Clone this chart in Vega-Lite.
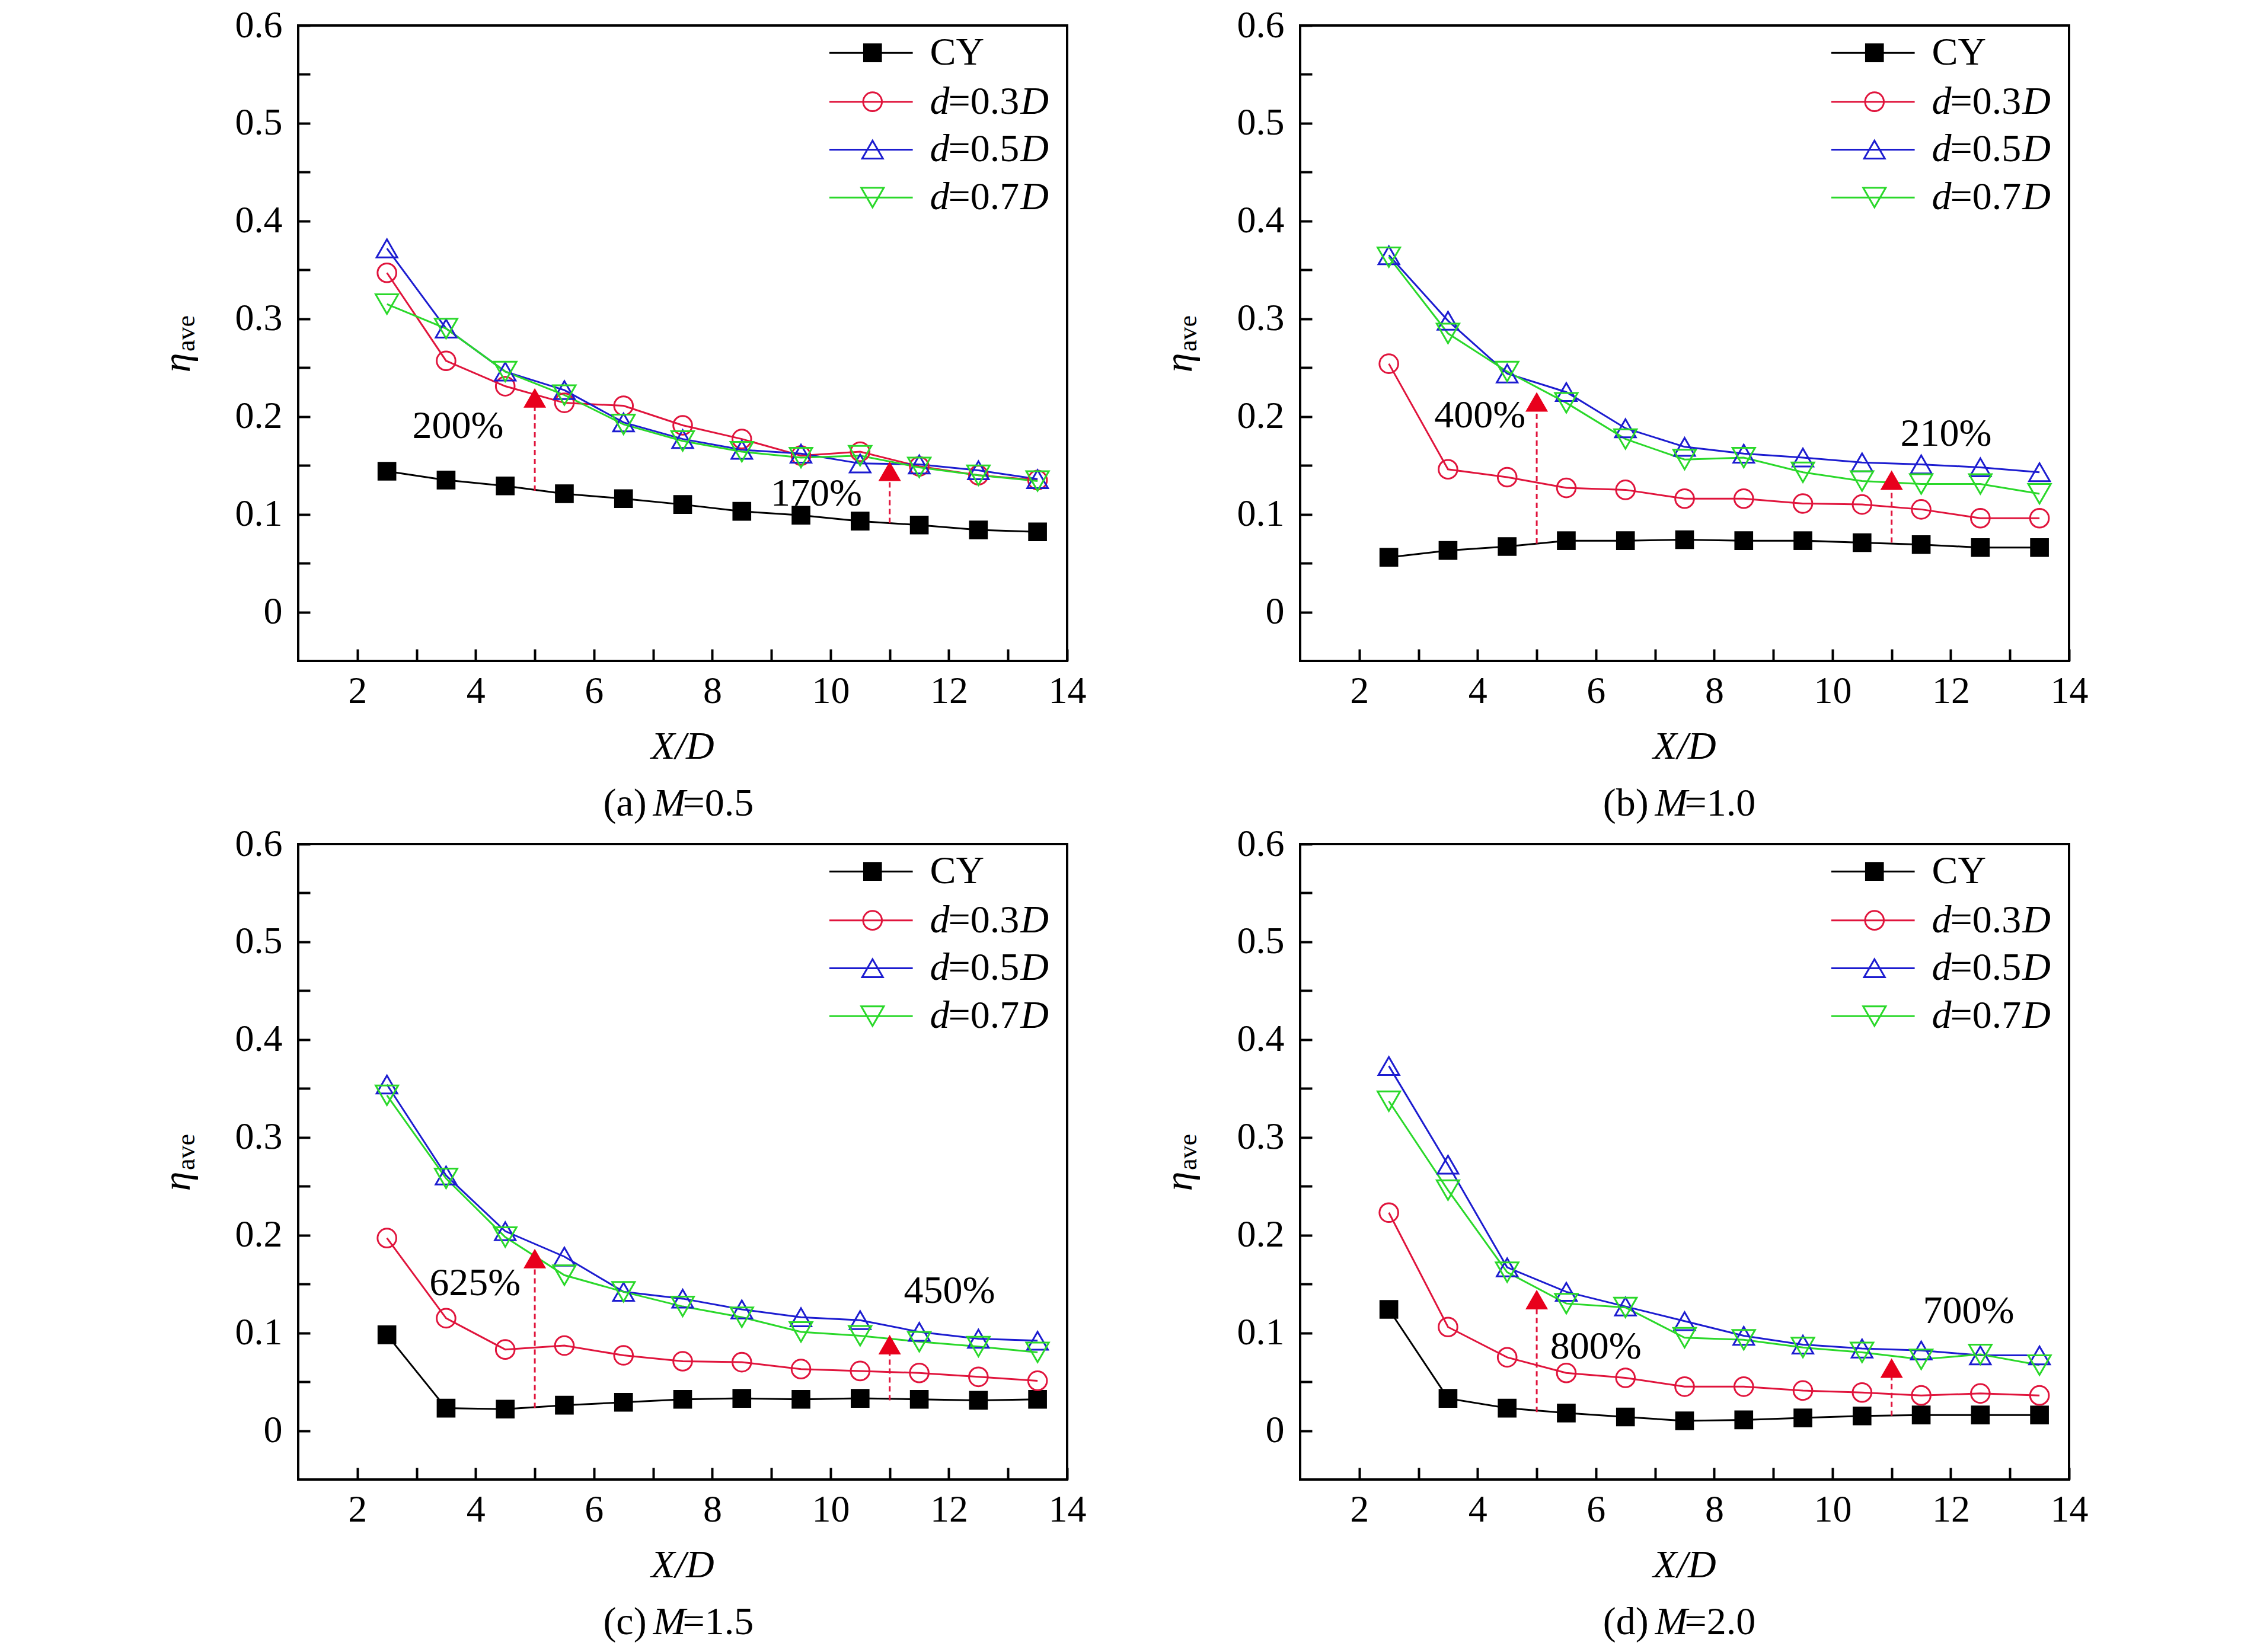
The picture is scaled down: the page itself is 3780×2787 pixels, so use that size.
{
  "$schema": "https://vega.github.io/schema/vega-lite/v6.json",
  "background": "white",
  "padding": {"left": 265, "top": 9, "right": 292, "bottom": 19},
  "data": {
    "values": [
      {"kind": "s", "panel": "a", "x": 2.5, "CY": 0.144, "d3": 0.347, "d5": 0.372, "d7": 0.315},
      {"kind": "s", "panel": "a", "x": 3.5, "CY": 0.135, "d3": 0.257, "d5": 0.290, "d7": 0.290},
      {"kind": "s", "panel": "a", "x": 4.5, "CY": 0.129, "d3": 0.231, "d5": 0.246, "d7": 0.246},
      {"kind": "s", "panel": "a", "x": 5.5, "CY": 0.121, "d3": 0.214, "d5": 0.227, "d7": 0.222},
      {"kind": "s", "panel": "a", "x": 6.5, "CY": 0.116, "d3": 0.211, "d5": 0.194, "d7": 0.192},
      {"kind": "s", "panel": "a", "x": 7.5, "CY": 0.110, "d3": 0.191, "d5": 0.177, "d7": 0.175},
      {"kind": "s", "panel": "a", "x": 8.5, "CY": 0.103, "d3": 0.177, "d5": 0.166, "d7": 0.164},
      {"kind": "s", "panel": "a", "x": 9.5, "CY": 0.099, "d3": 0.160, "d5": 0.162, "d7": 0.158},
      {"kind": "s", "panel": "a", "x": 10.5, "CY": 0.093, "d3": 0.164, "d5": 0.152, "d7": 0.160},
      {"kind": "s", "panel": "a", "x": 11.5, "CY": 0.089, "d3": 0.149, "d5": 0.151, "d7": 0.148},
      {"kind": "s", "panel": "a", "x": 12.5, "CY": 0.084, "d3": 0.140, "d5": 0.145, "d7": 0.140},
      {"kind": "s", "panel": "a", "x": 13.5, "CY": 0.082, "d3": 0.135, "d5": 0.136, "d7": 0.134},
      {"kind": "s", "panel": "b", "x": 2.5, "CY": 0.056, "d3": 0.254, "d5": 0.365, "d7": 0.363},
      {"kind": "s", "panel": "b", "x": 3.5, "CY": 0.063, "d3": 0.146, "d5": 0.298, "d7": 0.285},
      {"kind": "s", "panel": "b", "x": 4.5, "CY": 0.067, "d3": 0.138, "d5": 0.244, "d7": 0.246},
      {"kind": "s", "panel": "b", "x": 5.5, "CY": 0.073, "d3": 0.127, "d5": 0.225, "d7": 0.214},
      {"kind": "s", "panel": "b", "x": 6.5, "CY": 0.073, "d3": 0.125, "d5": 0.188, "d7": 0.177},
      {"kind": "s", "panel": "b", "x": 7.5, "CY": 0.074, "d3": 0.116, "d5": 0.169, "d7": 0.156},
      {"kind": "s", "panel": "b", "x": 8.5, "CY": 0.073, "d3": 0.116, "d5": 0.162, "d7": 0.158},
      {"kind": "s", "panel": "b", "x": 9.5, "CY": 0.073, "d3": 0.111, "d5": 0.158, "d7": 0.143},
      {"kind": "s", "panel": "b", "x": 10.5, "CY": 0.071, "d3": 0.110, "d5": 0.153, "d7": 0.134},
      {"kind": "s", "panel": "b", "x": 11.5, "CY": 0.069, "d3": 0.105, "d5": 0.151, "d7": 0.131},
      {"kind": "s", "panel": "b", "x": 12.5, "CY": 0.066, "d3": 0.096, "d5": 0.148, "d7": 0.131},
      {"kind": "s", "panel": "b", "x": 13.5, "CY": 0.066, "d3": 0.096, "d5": 0.143, "d7": 0.121},
      {"kind": "s", "panel": "c", "x": 2.5, "CY": 0.098, "d3": 0.197, "d5": 0.354, "d7": 0.343},
      {"kind": "s", "panel": "c", "x": 3.5, "CY": 0.023, "d3": 0.115, "d5": 0.261, "d7": 0.258},
      {"kind": "s", "panel": "c", "x": 4.5, "CY": 0.022, "d3": 0.083, "d5": 0.204, "d7": 0.198},
      {"kind": "s", "panel": "c", "x": 5.5, "CY": 0.026, "d3": 0.087, "d5": 0.178, "d7": 0.159},
      {"kind": "s", "panel": "c", "x": 6.5, "CY": 0.029, "d3": 0.077, "d5": 0.142, "d7": 0.142},
      {"kind": "s", "panel": "c", "x": 7.5, "CY": 0.032, "d3": 0.071, "d5": 0.135, "d7": 0.127},
      {"kind": "s", "panel": "c", "x": 8.5, "CY": 0.033, "d3": 0.070, "d5": 0.124, "d7": 0.116},
      {"kind": "s", "panel": "c", "x": 9.5, "CY": 0.032, "d3": 0.063, "d5": 0.116, "d7": 0.101},
      {"kind": "s", "panel": "c", "x": 10.5, "CY": 0.033, "d3": 0.061, "d5": 0.113, "d7": 0.097},
      {"kind": "s", "panel": "c", "x": 11.5, "CY": 0.032, "d3": 0.059, "d5": 0.101, "d7": 0.091},
      {"kind": "s", "panel": "c", "x": 12.5, "CY": 0.031, "d3": 0.055, "d5": 0.094, "d7": 0.086},
      {"kind": "s", "panel": "c", "x": 13.5, "CY": 0.032, "d3": 0.051, "d5": 0.092, "d7": 0.080},
      {"kind": "s", "panel": "d", "x": 2.5, "CY": 0.124, "d3": 0.223, "d5": 0.373, "d7": 0.337},
      {"kind": "s", "panel": "d", "x": 3.5, "CY": 0.033, "d3": 0.106, "d5": 0.272, "d7": 0.246},
      {"kind": "s", "panel": "d", "x": 4.5, "CY": 0.023, "d3": 0.075, "d5": 0.167, "d7": 0.162},
      {"kind": "s", "panel": "d", "x": 5.5, "CY": 0.018, "d3": 0.059, "d5": 0.142, "d7": 0.130},
      {"kind": "s", "panel": "d", "x": 6.5, "CY": 0.014, "d3": 0.054, "d5": 0.127, "d7": 0.126},
      {"kind": "s", "panel": "d", "x": 7.5, "CY": 0.010, "d3": 0.045, "d5": 0.112, "d7": 0.095},
      {"kind": "s", "panel": "d", "x": 8.5, "CY": 0.011, "d3": 0.045, "d5": 0.097, "d7": 0.093},
      {"kind": "s", "panel": "d", "x": 9.5, "CY": 0.013, "d3": 0.041, "d5": 0.088, "d7": 0.085},
      {"kind": "s", "panel": "d", "x": 10.5, "CY": 0.015, "d3": 0.039, "d5": 0.084, "d7": 0.080},
      {"kind": "s", "panel": "d", "x": 11.5, "CY": 0.016, "d3": 0.036, "d5": 0.082, "d7": 0.073},
      {"kind": "s", "panel": "d", "x": 12.5, "CY": 0.016, "d3": 0.038, "d5": 0.077, "d7": 0.078},
      {"kind": "s", "panel": "d", "x": 13.5, "CY": 0.016, "d3": 0.036, "d5": 0.077, "d7": 0.067},
      {"kind": "ann", "panel": "a", "ax": 5, "base": 0.124, "tip": 0.219, "pct": "200%", "lx": 3.7, "ly": 0.19},
      {"kind": "ann", "panel": "a", "ax": 11, "base": 0.091, "tip": 0.144, "pct": "170%", "lx": 9.76, "ly": 0.121},
      {"kind": "ann", "panel": "b", "ax": 5, "base": 0.070, "tip": 0.215, "pct": "400%", "lx": 4.04, "ly": 0.201},
      {"kind": "ann", "panel": "b", "ax": 11, "base": 0.071, "tip": 0.135, "pct": "210%", "lx": 11.92, "ly": 0.182},
      {"kind": "ann", "panel": "c", "ax": 5, "base": 0.023, "tip": 0.176, "pct": "625%", "lx": 3.99, "ly": 0.151},
      {"kind": "ann", "panel": "c", "ax": 11, "base": 0.031, "tip": 0.088, "pct": "450%", "lx": 12.01, "ly": 0.143},
      {"kind": "ann", "panel": "d", "ax": 5, "base": 0.019, "tip": 0.134, "pct": "800%", "lx": 6.0, "ly": 0.086},
      {"kind": "ann", "panel": "d", "ax": 11, "base": 0.015, "tip": 0.064, "pct": "700%", "lx": 12.3, "ly": 0.122},
      {"kind": "leg", "panel": "a", "series": "CY", "ly": 0.572, "eq": ""},
      {"kind": "leg", "panel": "a", "series": "d3", "ly": 0.522, "eq": "=0.3"},
      {"kind": "leg", "panel": "a", "series": "d5", "ly": 0.473, "eq": "=0.5"},
      {"kind": "leg", "panel": "a", "series": "d7", "ly": 0.424, "eq": "=0.7"},
      {"kind": "leg", "panel": "b", "series": "CY", "ly": 0.572, "eq": ""},
      {"kind": "leg", "panel": "b", "series": "d3", "ly": 0.522, "eq": "=0.3"},
      {"kind": "leg", "panel": "b", "series": "d5", "ly": 0.473, "eq": "=0.5"},
      {"kind": "leg", "panel": "b", "series": "d7", "ly": 0.424, "eq": "=0.7"},
      {"kind": "leg", "panel": "c", "series": "CY", "ly": 0.572, "eq": ""},
      {"kind": "leg", "panel": "c", "series": "d3", "ly": 0.522, "eq": "=0.3"},
      {"kind": "leg", "panel": "c", "series": "d5", "ly": 0.473, "eq": "=0.5"},
      {"kind": "leg", "panel": "c", "series": "d7", "ly": 0.424, "eq": "=0.7"},
      {"kind": "leg", "panel": "d", "series": "CY", "ly": 0.572, "eq": ""},
      {"kind": "leg", "panel": "d", "series": "d3", "ly": 0.522, "eq": "=0.3"},
      {"kind": "leg", "panel": "d", "series": "d5", "ly": 0.473, "eq": "=0.5"},
      {"kind": "leg", "panel": "d", "series": "d7", "ly": 0.424, "eq": "=0.7"},
      {"kind": "cap", "panel": "a", "lab": "(a)", "mv": "=0.5"},
      {"kind": "cap", "panel": "b", "lab": "(b)", "mv": "=1.0"},
      {"kind": "cap", "panel": "c", "lab": "(c)", "mv": "=1.5"},
      {"kind": "cap", "panel": "d", "lab": "(d)", "mv": "=2.0"}
    ]
  },
  "columns": 2,
  "spacing": {"row": 309, "column": 393},
  "bounds": "flush",
  "concat": [
    {
      "width": 1297, "height": 1072,
      "transform": [{"filter": "datum.panel == 'a'"}],
      "encoding": {
        "x": {"type": "quantitative", "scale": {"domain": [1, 14], "nice": false, "zero": false}, "axis": {"values": [2, 3, 4, 5, 6, 7, 8, 9, 10, 11, 12, 13, 14], "labelExpr": "datum.value % 2 == 0 ? datum.label : ''", "title": null, "labelPadding": 39}},
        "y": {"type": "quantitative", "scale": {"domain": [-0.05, 0.6], "nice": false, "zero": false}, "axis": {"values": [0, 0.05, 0.1, 0.15, 0.2, 0.25, 0.3, 0.35, 0.4, 0.45, 0.5, 0.55, 0.6], "labelExpr": "round(datum.value * 100) % 10 == 0 ? (datum.value == 0 ? '0' : format(datum.value, '.1f')) : ''", "title": null, "labelPadding": 47}}
      },
      "layer": [
        {"transform": [{"filter": "datum.kind == 's'"}, {"fold": ["CY", "d3", "d5", "d7"], "as": ["series", "eta"]}], "mark": {"type": "line", "strokeWidth": 3}, "encoding": {"x": {"field": "x"}, "y": {"field": "eta"}, "color": {"field": "series", "type": "nominal", "scale": {"domain": ["CY", "d3", "d5", "d7"], "range": ["#000000", "#e0143c", "#1c1cd0", "#2ad82a"]}, "legend": null}}},
        {"transform": [{"filter": "datum.kind == 's'"}], "mark": {"type": "point", "shape": "square", "filled": true, "color": "black", "size": 1000, "opacity": 1}, "encoding": {"x": {"field": "x"}, "y": {"field": "CY"}}},
        {"transform": [{"filter": "datum.kind == 's'"}, {"fold": ["d3", "d5", "d7"], "as": ["series", "eta"]}], "mark": {"type": "point", "filled": false, "strokeWidth": 3, "opacity": 1}, "encoding": {"x": {"field": "x"}, "y": {"field": "eta"}, "color": {"field": "series", "type": "nominal", "legend": null}, "shape": {"field": "series", "type": "nominal", "scale": {"domain": ["d3", "d5", "d7"], "range": ["circle", "triangle-up", "triangle-down"]}, "legend": null}, "size": {"field": "series", "type": "nominal", "scale": {"domain": ["d3", "d5", "d7"], "range": [1000, 1450, 1450]}, "legend": null}}},
        {"transform": [{"filter": "datum.kind == 'ann'"}], "mark": {"type": "rule", "color": "#e0143c", "strokeWidth": 3, "strokeDash": [9, 6]}, "encoding": {"x": {"field": "ax"}, "y": {"field": "base"}, "y2": {"field": "tip"}}},
        {"transform": [{"filter": "datum.kind == 'ann'"}], "mark": {"type": "point", "shape": "triangle-up", "filled": true, "color": "#e8001c", "size": 1450, "opacity": 1}, "encoding": {"x": {"field": "ax"}, "y": {"field": "tip"}}},
        {"transform": [{"filter": "datum.kind == 'ann'"}], "mark": {"type": "text", "fontSize": 66, "color": "black"}, "encoding": {"x": {"field": "lx"}, "y": {"field": "ly"}, "text": {"field": "pct"}}},
        {"transform": [{"filter": "datum.kind == 'leg'"}], "mark": {"type": "rule", "strokeWidth": 3}, "encoding": {"x": {"datum": 9.98}, "x2": {"datum": 11.39}, "y": {"field": "ly"}, "color": {"field": "series", "type": "nominal", "legend": null}}},
        {"transform": [{"filter": "datum.kind == 'leg' && datum.series == 'CY'"}], "mark": {"type": "point", "shape": "square", "filled": true, "color": "black", "size": 1000, "opacity": 1}, "encoding": {"x": {"datum": 10.71}, "y": {"field": "ly"}}},
        {"transform": [{"filter": "datum.kind == 'leg' && datum.series != 'CY'"}], "mark": {"type": "point", "filled": false, "strokeWidth": 3, "opacity": 1}, "encoding": {"x": {"datum": 10.71}, "y": {"field": "ly"}, "color": {"field": "series", "type": "nominal", "legend": null}, "shape": {"field": "series", "type": "nominal", "legend": null}, "size": {"field": "series", "type": "nominal", "legend": null}}},
        {"transform": [{"filter": "datum.kind == 'leg' && datum.series == 'CY'"}], "mark": {"type": "text", "fontSize": 66, "align": "left", "color": "black", "text": "CY"}, "encoding": {"x": {"datum": 11.68}, "y": {"field": "ly"}}},
        {"transform": [{"filter": "datum.kind == 'leg' && datum.series != 'CY'"}], "mark": {"type": "text", "fontSize": 66, "align": "left", "fontStyle": "italic", "color": "black", "text": "d"}, "encoding": {"x": {"datum": 11.68}, "y": {"field": "ly"}}},
        {"transform": [{"filter": "datum.kind == 'leg' && datum.series != 'CY'"}], "mark": {"type": "text", "fontSize": 66, "align": "left", "color": "black"}, "encoding": {"x": {"datum": 11.99}, "y": {"field": "ly"}, "text": {"field": "eq"}}},
        {"transform": [{"filter": "datum.kind == 'leg' && datum.series != 'CY'"}], "mark": {"type": "text", "fontSize": 66, "align": "left", "fontStyle": "italic", "color": "black", "text": "D"}, "encoding": {"x": {"datum": 13.21}, "y": {"field": "ly"}}},
        {"transform": [{"filter": "datum.kind == 'cap'"}], "mark": {"type": "text", "fontSize": 66, "align": "right", "color": "black"}, "encoding": {"x": {"datum": 6.89}, "y": {"datum": -0.196}, "text": {"field": "lab"}}},
        {"transform": [{"filter": "datum.kind == 'cap'"}], "mark": {"type": "text", "fontSize": 66, "align": "left", "fontStyle": "italic", "color": "black", "text": "M"}, "encoding": {"x": {"datum": 7.0}, "y": {"datum": -0.196}}},
        {"transform": [{"filter": "datum.kind == 'cap'"}], "mark": {"type": "text", "fontSize": 66, "align": "left", "color": "black"}, "encoding": {"x": {"datum": 7.5}, "y": {"datum": -0.196}, "text": {"field": "mv"}}},
        {"transform": [{"filter": "datum.kind == 'cap'"}], "mark": {"type": "text", "fontSize": 66, "fontStyle": "italic", "color": "black", "text": "X/D"}, "encoding": {"x": {"datum": 7.5}, "y": {"datum": -0.138}}},
        {"transform": [{"filter": "datum.kind == 'cap'"}], "mark": {"type": "text", "fontSize": 66, "fontStyle": "italic", "angle": 270, "color": "black", "text": "η"}, "encoding": {"x": {"datum": -1.03}, "y": {"datum": 0.255}}},
        {"transform": [{"filter": "datum.kind == 'cap'"}], "mark": {"type": "text", "fontSize": 44, "angle": 270, "color": "black", "text": "ave"}, "encoding": {"x": {"datum": -0.88}, "y": {"datum": 0.285}}}
      ]
    },
    {
      "width": 1297, "height": 1072,
      "transform": [{"filter": "datum.panel == 'b'"}],
      "encoding": {
        "x": {"type": "quantitative", "scale": {"domain": [1, 14], "nice": false, "zero": false}, "axis": {"values": [2, 3, 4, 5, 6, 7, 8, 9, 10, 11, 12, 13, 14], "labelExpr": "datum.value % 2 == 0 ? datum.label : ''", "title": null, "labelPadding": 39}},
        "y": {"type": "quantitative", "scale": {"domain": [-0.05, 0.6], "nice": false, "zero": false}, "axis": {"values": [0, 0.05, 0.1, 0.15, 0.2, 0.25, 0.3, 0.35, 0.4, 0.45, 0.5, 0.55, 0.6], "labelExpr": "round(datum.value * 100) % 10 == 0 ? (datum.value == 0 ? '0' : format(datum.value, '.1f')) : ''", "title": null, "labelPadding": 47}}
      },
      "layer": [
        {"transform": [{"filter": "datum.kind == 's'"}, {"fold": ["CY", "d3", "d5", "d7"], "as": ["series", "eta"]}], "mark": {"type": "line", "strokeWidth": 3}, "encoding": {"x": {"field": "x"}, "y": {"field": "eta"}, "color": {"field": "series", "type": "nominal", "scale": {"domain": ["CY", "d3", "d5", "d7"], "range": ["#000000", "#e0143c", "#1c1cd0", "#2ad82a"]}, "legend": null}}},
        {"transform": [{"filter": "datum.kind == 's'"}], "mark": {"type": "point", "shape": "square", "filled": true, "color": "black", "size": 1000, "opacity": 1}, "encoding": {"x": {"field": "x"}, "y": {"field": "CY"}}},
        {"transform": [{"filter": "datum.kind == 's'"}, {"fold": ["d3", "d5", "d7"], "as": ["series", "eta"]}], "mark": {"type": "point", "filled": false, "strokeWidth": 3, "opacity": 1}, "encoding": {"x": {"field": "x"}, "y": {"field": "eta"}, "color": {"field": "series", "type": "nominal", "legend": null}, "shape": {"field": "series", "type": "nominal", "scale": {"domain": ["d3", "d5", "d7"], "range": ["circle", "triangle-up", "triangle-down"]}, "legend": null}, "size": {"field": "series", "type": "nominal", "scale": {"domain": ["d3", "d5", "d7"], "range": [1000, 1450, 1450]}, "legend": null}}},
        {"transform": [{"filter": "datum.kind == 'ann'"}], "mark": {"type": "rule", "color": "#e0143c", "strokeWidth": 3, "strokeDash": [9, 6]}, "encoding": {"x": {"field": "ax"}, "y": {"field": "base"}, "y2": {"field": "tip"}}},
        {"transform": [{"filter": "datum.kind == 'ann'"}], "mark": {"type": "point", "shape": "triangle-up", "filled": true, "color": "#e8001c", "size": 1450, "opacity": 1}, "encoding": {"x": {"field": "ax"}, "y": {"field": "tip"}}},
        {"transform": [{"filter": "datum.kind == 'ann'"}], "mark": {"type": "text", "fontSize": 66, "color": "black"}, "encoding": {"x": {"field": "lx"}, "y": {"field": "ly"}, "text": {"field": "pct"}}},
        {"transform": [{"filter": "datum.kind == 'leg'"}], "mark": {"type": "rule", "strokeWidth": 3}, "encoding": {"x": {"datum": 9.98}, "x2": {"datum": 11.39}, "y": {"field": "ly"}, "color": {"field": "series", "type": "nominal", "legend": null}}},
        {"transform": [{"filter": "datum.kind == 'leg' && datum.series == 'CY'"}], "mark": {"type": "point", "shape": "square", "filled": true, "color": "black", "size": 1000, "opacity": 1}, "encoding": {"x": {"datum": 10.71}, "y": {"field": "ly"}}},
        {"transform": [{"filter": "datum.kind == 'leg' && datum.series != 'CY'"}], "mark": {"type": "point", "filled": false, "strokeWidth": 3, "opacity": 1}, "encoding": {"x": {"datum": 10.71}, "y": {"field": "ly"}, "color": {"field": "series", "type": "nominal", "legend": null}, "shape": {"field": "series", "type": "nominal", "legend": null}, "size": {"field": "series", "type": "nominal", "legend": null}}},
        {"transform": [{"filter": "datum.kind == 'leg' && datum.series == 'CY'"}], "mark": {"type": "text", "fontSize": 66, "align": "left", "color": "black", "text": "CY"}, "encoding": {"x": {"datum": 11.68}, "y": {"field": "ly"}}},
        {"transform": [{"filter": "datum.kind == 'leg' && datum.series != 'CY'"}], "mark": {"type": "text", "fontSize": 66, "align": "left", "fontStyle": "italic", "color": "black", "text": "d"}, "encoding": {"x": {"datum": 11.68}, "y": {"field": "ly"}}},
        {"transform": [{"filter": "datum.kind == 'leg' && datum.series != 'CY'"}], "mark": {"type": "text", "fontSize": 66, "align": "left", "color": "black"}, "encoding": {"x": {"datum": 11.99}, "y": {"field": "ly"}, "text": {"field": "eq"}}},
        {"transform": [{"filter": "datum.kind == 'leg' && datum.series != 'CY'"}], "mark": {"type": "text", "fontSize": 66, "align": "left", "fontStyle": "italic", "color": "black", "text": "D"}, "encoding": {"x": {"datum": 13.21}, "y": {"field": "ly"}}},
        {"transform": [{"filter": "datum.kind == 'cap'"}], "mark": {"type": "text", "fontSize": 66, "align": "right", "color": "black"}, "encoding": {"x": {"datum": 6.89}, "y": {"datum": -0.196}, "text": {"field": "lab"}}},
        {"transform": [{"filter": "datum.kind == 'cap'"}], "mark": {"type": "text", "fontSize": 66, "align": "left", "fontStyle": "italic", "color": "black", "text": "M"}, "encoding": {"x": {"datum": 7.0}, "y": {"datum": -0.196}}},
        {"transform": [{"filter": "datum.kind == 'cap'"}], "mark": {"type": "text", "fontSize": 66, "align": "left", "color": "black"}, "encoding": {"x": {"datum": 7.5}, "y": {"datum": -0.196}, "text": {"field": "mv"}}},
        {"transform": [{"filter": "datum.kind == 'cap'"}], "mark": {"type": "text", "fontSize": 66, "fontStyle": "italic", "color": "black", "text": "X/D"}, "encoding": {"x": {"datum": 7.5}, "y": {"datum": -0.138}}},
        {"transform": [{"filter": "datum.kind == 'cap'"}], "mark": {"type": "text", "fontSize": 66, "fontStyle": "italic", "angle": 270, "color": "black", "text": "η"}, "encoding": {"x": {"datum": -1.03}, "y": {"datum": 0.255}}},
        {"transform": [{"filter": "datum.kind == 'cap'"}], "mark": {"type": "text", "fontSize": 44, "angle": 270, "color": "black", "text": "ave"}, "encoding": {"x": {"datum": -0.88}, "y": {"datum": 0.285}}}
      ]
    },
    {
      "width": 1297, "height": 1072,
      "transform": [{"filter": "datum.panel == 'c'"}],
      "encoding": {
        "x": {"type": "quantitative", "scale": {"domain": [1, 14], "nice": false, "zero": false}, "axis": {"values": [2, 3, 4, 5, 6, 7, 8, 9, 10, 11, 12, 13, 14], "labelExpr": "datum.value % 2 == 0 ? datum.label : ''", "title": null, "labelPadding": 39}},
        "y": {"type": "quantitative", "scale": {"domain": [-0.05, 0.6], "nice": false, "zero": false}, "axis": {"values": [0, 0.05, 0.1, 0.15, 0.2, 0.25, 0.3, 0.35, 0.4, 0.45, 0.5, 0.55, 0.6], "labelExpr": "round(datum.value * 100) % 10 == 0 ? (datum.value == 0 ? '0' : format(datum.value, '.1f')) : ''", "title": null, "labelPadding": 47}}
      },
      "layer": [
        {"transform": [{"filter": "datum.kind == 's'"}, {"fold": ["CY", "d3", "d5", "d7"], "as": ["series", "eta"]}], "mark": {"type": "line", "strokeWidth": 3}, "encoding": {"x": {"field": "x"}, "y": {"field": "eta"}, "color": {"field": "series", "type": "nominal", "scale": {"domain": ["CY", "d3", "d5", "d7"], "range": ["#000000", "#e0143c", "#1c1cd0", "#2ad82a"]}, "legend": null}}},
        {"transform": [{"filter": "datum.kind == 's'"}], "mark": {"type": "point", "shape": "square", "filled": true, "color": "black", "size": 1000, "opacity": 1}, "encoding": {"x": {"field": "x"}, "y": {"field": "CY"}}},
        {"transform": [{"filter": "datum.kind == 's'"}, {"fold": ["d3", "d5", "d7"], "as": ["series", "eta"]}], "mark": {"type": "point", "filled": false, "strokeWidth": 3, "opacity": 1}, "encoding": {"x": {"field": "x"}, "y": {"field": "eta"}, "color": {"field": "series", "type": "nominal", "legend": null}, "shape": {"field": "series", "type": "nominal", "scale": {"domain": ["d3", "d5", "d7"], "range": ["circle", "triangle-up", "triangle-down"]}, "legend": null}, "size": {"field": "series", "type": "nominal", "scale": {"domain": ["d3", "d5", "d7"], "range": [1000, 1450, 1450]}, "legend": null}}},
        {"transform": [{"filter": "datum.kind == 'ann'"}], "mark": {"type": "rule", "color": "#e0143c", "strokeWidth": 3, "strokeDash": [9, 6]}, "encoding": {"x": {"field": "ax"}, "y": {"field": "base"}, "y2": {"field": "tip"}}},
        {"transform": [{"filter": "datum.kind == 'ann'"}], "mark": {"type": "point", "shape": "triangle-up", "filled": true, "color": "#e8001c", "size": 1450, "opacity": 1}, "encoding": {"x": {"field": "ax"}, "y": {"field": "tip"}}},
        {"transform": [{"filter": "datum.kind == 'ann'"}], "mark": {"type": "text", "fontSize": 66, "color": "black"}, "encoding": {"x": {"field": "lx"}, "y": {"field": "ly"}, "text": {"field": "pct"}}},
        {"transform": [{"filter": "datum.kind == 'leg'"}], "mark": {"type": "rule", "strokeWidth": 3}, "encoding": {"x": {"datum": 9.98}, "x2": {"datum": 11.39}, "y": {"field": "ly"}, "color": {"field": "series", "type": "nominal", "legend": null}}},
        {"transform": [{"filter": "datum.kind == 'leg' && datum.series == 'CY'"}], "mark": {"type": "point", "shape": "square", "filled": true, "color": "black", "size": 1000, "opacity": 1}, "encoding": {"x": {"datum": 10.71}, "y": {"field": "ly"}}},
        {"transform": [{"filter": "datum.kind == 'leg' && datum.series != 'CY'"}], "mark": {"type": "point", "filled": false, "strokeWidth": 3, "opacity": 1}, "encoding": {"x": {"datum": 10.71}, "y": {"field": "ly"}, "color": {"field": "series", "type": "nominal", "legend": null}, "shape": {"field": "series", "type": "nominal", "legend": null}, "size": {"field": "series", "type": "nominal", "legend": null}}},
        {"transform": [{"filter": "datum.kind == 'leg' && datum.series == 'CY'"}], "mark": {"type": "text", "fontSize": 66, "align": "left", "color": "black", "text": "CY"}, "encoding": {"x": {"datum": 11.68}, "y": {"field": "ly"}}},
        {"transform": [{"filter": "datum.kind == 'leg' && datum.series != 'CY'"}], "mark": {"type": "text", "fontSize": 66, "align": "left", "fontStyle": "italic", "color": "black", "text": "d"}, "encoding": {"x": {"datum": 11.68}, "y": {"field": "ly"}}},
        {"transform": [{"filter": "datum.kind == 'leg' && datum.series != 'CY'"}], "mark": {"type": "text", "fontSize": 66, "align": "left", "color": "black"}, "encoding": {"x": {"datum": 11.99}, "y": {"field": "ly"}, "text": {"field": "eq"}}},
        {"transform": [{"filter": "datum.kind == 'leg' && datum.series != 'CY'"}], "mark": {"type": "text", "fontSize": 66, "align": "left", "fontStyle": "italic", "color": "black", "text": "D"}, "encoding": {"x": {"datum": 13.21}, "y": {"field": "ly"}}},
        {"transform": [{"filter": "datum.kind == 'cap'"}], "mark": {"type": "text", "fontSize": 66, "align": "right", "color": "black"}, "encoding": {"x": {"datum": 6.89}, "y": {"datum": -0.196}, "text": {"field": "lab"}}},
        {"transform": [{"filter": "datum.kind == 'cap'"}], "mark": {"type": "text", "fontSize": 66, "align": "left", "fontStyle": "italic", "color": "black", "text": "M"}, "encoding": {"x": {"datum": 7.0}, "y": {"datum": -0.196}}},
        {"transform": [{"filter": "datum.kind == 'cap'"}], "mark": {"type": "text", "fontSize": 66, "align": "left", "color": "black"}, "encoding": {"x": {"datum": 7.5}, "y": {"datum": -0.196}, "text": {"field": "mv"}}},
        {"transform": [{"filter": "datum.kind == 'cap'"}], "mark": {"type": "text", "fontSize": 66, "fontStyle": "italic", "color": "black", "text": "X/D"}, "encoding": {"x": {"datum": 7.5}, "y": {"datum": -0.138}}},
        {"transform": [{"filter": "datum.kind == 'cap'"}], "mark": {"type": "text", "fontSize": 66, "fontStyle": "italic", "angle": 270, "color": "black", "text": "η"}, "encoding": {"x": {"datum": -1.03}, "y": {"datum": 0.255}}},
        {"transform": [{"filter": "datum.kind == 'cap'"}], "mark": {"type": "text", "fontSize": 44, "angle": 270, "color": "black", "text": "ave"}, "encoding": {"x": {"datum": -0.88}, "y": {"datum": 0.285}}}
      ]
    },
    {
      "width": 1297, "height": 1072,
      "transform": [{"filter": "datum.panel == 'd'"}],
      "encoding": {
        "x": {"type": "quantitative", "scale": {"domain": [1, 14], "nice": false, "zero": false}, "axis": {"values": [2, 3, 4, 5, 6, 7, 8, 9, 10, 11, 12, 13, 14], "labelExpr": "datum.value % 2 == 0 ? datum.label : ''", "title": null, "labelPadding": 39}},
        "y": {"type": "quantitative", "scale": {"domain": [-0.05, 0.6], "nice": false, "zero": false}, "axis": {"values": [0, 0.05, 0.1, 0.15, 0.2, 0.25, 0.3, 0.35, 0.4, 0.45, 0.5, 0.55, 0.6], "labelExpr": "round(datum.value * 100) % 10 == 0 ? (datum.value == 0 ? '0' : format(datum.value, '.1f')) : ''", "title": null, "labelPadding": 47}}
      },
      "layer": [
        {"transform": [{"filter": "datum.kind == 's'"}, {"fold": ["CY", "d3", "d5", "d7"], "as": ["series", "eta"]}], "mark": {"type": "line", "strokeWidth": 3}, "encoding": {"x": {"field": "x"}, "y": {"field": "eta"}, "color": {"field": "series", "type": "nominal", "scale": {"domain": ["CY", "d3", "d5", "d7"], "range": ["#000000", "#e0143c", "#1c1cd0", "#2ad82a"]}, "legend": null}}},
        {"transform": [{"filter": "datum.kind == 's'"}], "mark": {"type": "point", "shape": "square", "filled": true, "color": "black", "size": 1000, "opacity": 1}, "encoding": {"x": {"field": "x"}, "y": {"field": "CY"}}},
        {"transform": [{"filter": "datum.kind == 's'"}, {"fold": ["d3", "d5", "d7"], "as": ["series", "eta"]}], "mark": {"type": "point", "filled": false, "strokeWidth": 3, "opacity": 1}, "encoding": {"x": {"field": "x"}, "y": {"field": "eta"}, "color": {"field": "series", "type": "nominal", "legend": null}, "shape": {"field": "series", "type": "nominal", "scale": {"domain": ["d3", "d5", "d7"], "range": ["circle", "triangle-up", "triangle-down"]}, "legend": null}, "size": {"field": "series", "type": "nominal", "scale": {"domain": ["d3", "d5", "d7"], "range": [1000, 1450, 1450]}, "legend": null}}},
        {"transform": [{"filter": "datum.kind == 'ann'"}], "mark": {"type": "rule", "color": "#e0143c", "strokeWidth": 3, "strokeDash": [9, 6]}, "encoding": {"x": {"field": "ax"}, "y": {"field": "base"}, "y2": {"field": "tip"}}},
        {"transform": [{"filter": "datum.kind == 'ann'"}], "mark": {"type": "point", "shape": "triangle-up", "filled": true, "color": "#e8001c", "size": 1450, "opacity": 1}, "encoding": {"x": {"field": "ax"}, "y": {"field": "tip"}}},
        {"transform": [{"filter": "datum.kind == 'ann'"}], "mark": {"type": "text", "fontSize": 66, "color": "black"}, "encoding": {"x": {"field": "lx"}, "y": {"field": "ly"}, "text": {"field": "pct"}}},
        {"transform": [{"filter": "datum.kind == 'leg'"}], "mark": {"type": "rule", "strokeWidth": 3}, "encoding": {"x": {"datum": 9.98}, "x2": {"datum": 11.39}, "y": {"field": "ly"}, "color": {"field": "series", "type": "nominal", "legend": null}}},
        {"transform": [{"filter": "datum.kind == 'leg' && datum.series == 'CY'"}], "mark": {"type": "point", "shape": "square", "filled": true, "color": "black", "size": 1000, "opacity": 1}, "encoding": {"x": {"datum": 10.71}, "y": {"field": "ly"}}},
        {"transform": [{"filter": "datum.kind == 'leg' && datum.series != 'CY'"}], "mark": {"type": "point", "filled": false, "strokeWidth": 3, "opacity": 1}, "encoding": {"x": {"datum": 10.71}, "y": {"field": "ly"}, "color": {"field": "series", "type": "nominal", "legend": null}, "shape": {"field": "series", "type": "nominal", "legend": null}, "size": {"field": "series", "type": "nominal", "legend": null}}},
        {"transform": [{"filter": "datum.kind == 'leg' && datum.series == 'CY'"}], "mark": {"type": "text", "fontSize": 66, "align": "left", "color": "black", "text": "CY"}, "encoding": {"x": {"datum": 11.68}, "y": {"field": "ly"}}},
        {"transform": [{"filter": "datum.kind == 'leg' && datum.series != 'CY'"}], "mark": {"type": "text", "fontSize": 66, "align": "left", "fontStyle": "italic", "color": "black", "text": "d"}, "encoding": {"x": {"datum": 11.68}, "y": {"field": "ly"}}},
        {"transform": [{"filter": "datum.kind == 'leg' && datum.series != 'CY'"}], "mark": {"type": "text", "fontSize": 66, "align": "left", "color": "black"}, "encoding": {"x": {"datum": 11.99}, "y": {"field": "ly"}, "text": {"field": "eq"}}},
        {"transform": [{"filter": "datum.kind == 'leg' && datum.series != 'CY'"}], "mark": {"type": "text", "fontSize": 66, "align": "left", "fontStyle": "italic", "color": "black", "text": "D"}, "encoding": {"x": {"datum": 13.21}, "y": {"field": "ly"}}},
        {"transform": [{"filter": "datum.kind == 'cap'"}], "mark": {"type": "text", "fontSize": 66, "align": "right", "color": "black"}, "encoding": {"x": {"datum": 6.89}, "y": {"datum": -0.196}, "text": {"field": "lab"}}},
        {"transform": [{"filter": "datum.kind == 'cap'"}], "mark": {"type": "text", "fontSize": 66, "align": "left", "fontStyle": "italic", "color": "black", "text": "M"}, "encoding": {"x": {"datum": 7.0}, "y": {"datum": -0.196}}},
        {"transform": [{"filter": "datum.kind == 'cap'"}], "mark": {"type": "text", "fontSize": 66, "align": "left", "color": "black"}, "encoding": {"x": {"datum": 7.5}, "y": {"datum": -0.196}, "text": {"field": "mv"}}},
        {"transform": [{"filter": "datum.kind == 'cap'"}], "mark": {"type": "text", "fontSize": 66, "fontStyle": "italic", "color": "black", "text": "X/D"}, "encoding": {"x": {"datum": 7.5}, "y": {"datum": -0.138}}},
        {"transform": [{"filter": "datum.kind == 'cap'"}], "mark": {"type": "text", "fontSize": 66, "fontStyle": "italic", "angle": 270, "color": "black", "text": "η"}, "encoding": {"x": {"datum": -1.03}, "y": {"datum": 0.255}}},
        {"transform": [{"filter": "datum.kind == 'cap'"}], "mark": {"type": "text", "fontSize": 44, "angle": 270, "color": "black", "text": "ave"}, "encoding": {"x": {"datum": -0.88}, "y": {"datum": 0.285}}}
      ]
    }
  ],
  "config": {
    "font": "Liberation Serif",
    "view": {"stroke": "black", "strokeWidth": 4},
    "axis": {
      "grid": false,
      "domain": false,
      "ticks": true,
      "tickColor": "black",
      "tickWidth": 4,
      "tickSize": -20,
      "labelFont": "Liberation Serif",
      "labelFontSize": 64,
      "labelColor": "black",
      "labelFlush": false,
      "labelOverlap": false
    }
  }
}
